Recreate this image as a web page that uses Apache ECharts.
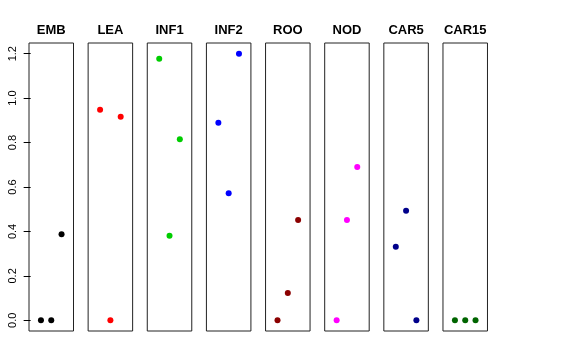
<!DOCTYPE html>
<html>
<head>
<meta charset="utf-8">
<script src="https://cdn.jsdelivr.net/npm/echarts@6/dist/echarts.min.js"></script>
<style>html,body{margin:0;padding:0;background:#fff}#c{width:576px;height:360px}</style>
</head>
<body>
<div id="c"></div>
<script>
const panels = ["EMB", "LEA", "INF1", "INF2", "ROO", "NOD", "CAR5", "CAR15"];
const xPos = [1, 2, 3];
const EMB = [0, 0, 0.387];
const LEA = [0.948, 0, 0.916];
const INF1 = [1.177, 0.381, 0.815];
const INF2 = [0.889, 0.572, 1.2];
const ROO = [0, 0.123, 0.451];
const NOD = [0, 0.451, 0.69];
const CAR5 = [0.331, 0.493, 0];
const CAR15 = [0, 0, 0];
const yTicks = [0, 0.2, 0.4, 0.6, 0.8, 1.0, 1.2];
const colors = ["#000000", "#FF0000", "#00CD00", "#0000FF", "#8B0000", "#FF00FF", "#00008B", "#006400"];

const values = [EMB, LEA, INF1, INF2, ROO, NOD, CAR5, CAR15];
const chart = echarts.init(document.getElementById('c'), null, {renderer: 'canvas'});
const grids = [], xAxes = [], yAxes = [], series = [], titles = [];
const FONT = 'Liberation Sans, Arial, Helvetica, sans-serif';
panels.forEach((name, i) => {
  const left = 29 + 59.14 * i;
  const width = 44.5;
  grids.push({left: left, top: 43, width: width, height: 288, show: true,
    borderColor: '#222', borderWidth: 1, backgroundColor: 'transparent', containLabel: false});
  xAxes.push({type: 'value', gridIndex: i, min: -0.16, max: 4.16, show: false});
  yAxes.push({type: 'value', gridIndex: i, min: -0.048, max: 1.248,
    splitLine: {show: false}, axisLine: {show: false},
    axisTick: {show: i === 0, length: 7, customValues: yTicks, lineStyle: {color: '#000'}},
    axisLabel: {show: i === 0, customValues: yTicks, rotate: 90, margin: 11,
      formatter: v => v.toFixed(1), color: '#000', fontSize: 11, fontFamily: FONT}
  });
  series.push({type: 'scatter', xAxisIndex: i, yAxisIndex: i, symbolSize: 6,
    itemStyle: {color: colors[i], opacity: 1}, silent: true,
    data: xPos.map((x, j) => [x, values[i][j]])});
  titles.push({text: name, left: left + width / 2, top: 24, textAlign: 'center', padding: 0,
    textStyle: {fontSize: 13, fontWeight: 'bold', color: '#000', fontFamily: FONT, lineHeight: 13}});
});
chart.setOption({animation: false, title: titles, grid: grids, xAxis: xAxes, yAxis: yAxes, series: series});
</script>
</body>
</html>
